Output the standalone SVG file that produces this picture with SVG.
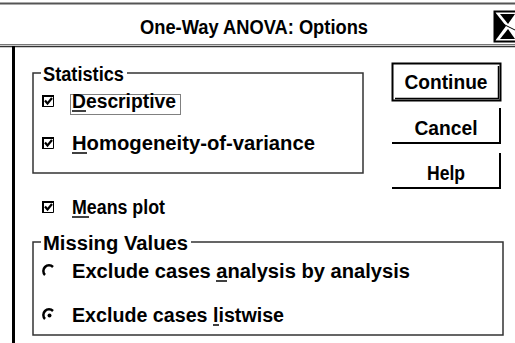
<svg xmlns="http://www.w3.org/2000/svg" width="515" height="343" viewBox="0 0 515 343">
<style>
.t{font-family:"Liberation Sans",Arial,sans-serif;font-weight:bold;fill:#000;font-size:19.5px}
.grp{stroke:#333;stroke-width:1.5;fill:none}
.ul{stroke:#000;stroke-width:1.5}
</style>
<defs>
<g id="chk">
<path d="M1,12 V1 H12" stroke="#000" stroke-width="2" fill="none"/>
<path d="M0,11.5 H11.5 V0" stroke="#000" stroke-width="1" fill="none"/>
<path d="M3,5.5 L5.5,8.5 L10,3" stroke="#000" stroke-width="2.2" fill="none"/>
</g>
<path id="rad" d="M2,10 A5.5,5.5 0 0 1 10,2" stroke="#000" stroke-width="2.5" fill="none"/>
</defs>
<rect width="515" height="343" fill="#fff"/>
<g id="titlebar">
<line x1="0" y1="3.5" x2="515" y2="3.5" stroke="#555" stroke-width="2"/>
<line x1="0" y1="44.5" x2="515" y2="44.5" stroke="#777" stroke-width="1"/>
<line x1="0" y1="46.5" x2="515" y2="46.5" stroke="#333" stroke-width="1.5"/>
<text class="t" x="254" y="34" font-size="18" text-anchor="middle" textLength="228" lengthAdjust="spacingAndGlyphs">One-Way ANOVA: Options</text>
</g>
<g id="close">
<rect x="494.5" y="11.5" width="22" height="30" fill="#fff" stroke="#000" stroke-width="2"/>
<polygon points="495,12 506,26 495,41" fill="#000"/>
<polygon points="500,14 515,14 508,24" fill="#000"/>
<polygon points="500,39 515,39 508,29" fill="#000"/>
<line x1="503" y1="24" x2="515" y2="30" stroke="#000" stroke-width="1"/>
</g>
<g id="frame">
<line x1="13.5" y1="46" x2="13.5" y2="343" stroke="#000" stroke-width="3"/>
</g>
<g id="statistics">
<path class="grp" d="M41,73 H33 V173 H363 V73 H127"/>
<text class="t" x="43" y="81" textLength="81" lengthAdjust="spacingAndGlyphs">Statistics</text>
</g>
<g id="descriptive">
<use href="#chk" x="42" y="95"/>
<rect x="70.5" y="94.5" width="110" height="20" fill="none" stroke="#000" stroke-width="1" stroke-dasharray="1 1"/>
<text class="t" x="72" y="108" textLength="104" lengthAdjust="spacingAndGlyphs">Descriptive</text>
<line class="ul" x1="72" y1="111" x2="86" y2="111"/>
</g>
<g id="homogeneity">
<use href="#chk" x="42" y="137"/>
<text class="t" x="72" y="150" textLength="243" lengthAdjust="spacingAndGlyphs">Homogeneity-of-variance</text>
<line class="ul" x1="72" y1="153" x2="87" y2="153"/>
</g>
<g id="btn-continue">
<rect x="392.5" y="63.5" width="108" height="37" fill="#fff" stroke="#000" stroke-width="2"/>
<path d="M395,98.5 H498.5 V66" stroke="#000" stroke-width="1.5" fill="none"/>
<text class="t" x="446" y="89" text-anchor="middle" textLength="83" lengthAdjust="spacingAndGlyphs">Continue</text>
</g>
<g id="btn-cancel">
<path d="M392,143 H500 V108" stroke="#000" stroke-width="2" fill="none"/>
<text class="t" x="446" y="135" text-anchor="middle" textLength="63" lengthAdjust="spacingAndGlyphs">Cancel</text>
</g>
<g id="btn-help">
<path d="M392,188 H500 V153" stroke="#000" stroke-width="2" fill="none"/>
<text class="t" x="446" y="180" text-anchor="middle" textLength="38" lengthAdjust="spacingAndGlyphs">Help</text>
</g>
<g id="meansplot">
<use href="#chk" x="42" y="201"/>
<text class="t" x="72" y="214" textLength="93" lengthAdjust="spacingAndGlyphs">Means plot</text>
<line class="ul" x1="72" y1="217" x2="89" y2="217"/>
</g>
<g id="missing">
<path class="grp" d="M41,242 H33 V335 H503 V242 H191"/>
<text class="t" x="43" y="250" textLength="145" lengthAdjust="spacingAndGlyphs">Missing Values</text>
</g>
<g id="radio-analysis">
<use href="#rad" x="43" y="265"/>
<text class="t" x="72" y="278" textLength="338" lengthAdjust="spacingAndGlyphs">Exclude cases analysis by analysis</text>
<line class="ul" x1="216" y1="281" x2="227" y2="281"/>
</g>
<g id="radio-listwise">
<use href="#rad" x="43" y="309"/>
<circle cx="49.5" cy="315.5" r="2" fill="#000"/>
<text class="t" x="72" y="322" textLength="212" lengthAdjust="spacingAndGlyphs">Exclude cases listwise</text>
<line class="ul" x1="213" y1="325" x2="219" y2="325"/>
</g>
</svg>
